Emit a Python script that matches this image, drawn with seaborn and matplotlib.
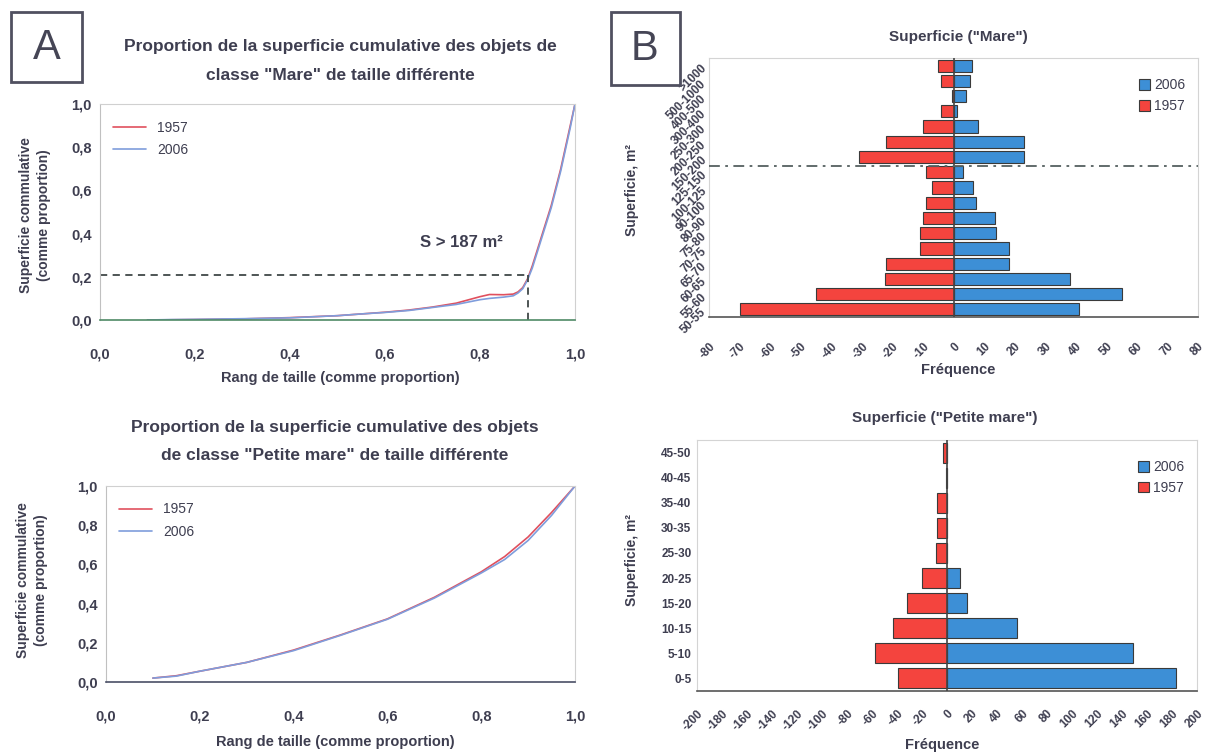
import matplotlib
matplotlib.use("Agg")
import matplotlib.pyplot as plt
import seaborn as sns
import pandas as pd
from matplotlib.patches import Rectangle

# ---------------- data ----------------
rank_mare = [0.10, 0.15, 0.20, 0.30, 0.40, 0.50, 0.55, 0.60, 0.65, 0.70, 0.75, 0.80, 0.82,
             0.85, 0.87, 0.88, 0.89, 0.90, 0.91, 0.92, 0.93, 0.95, 0.97, 0.99, 1.00]
mare_1957 = [0.000, 0.001, 0.002, 0.005, 0.011, 0.020, 0.028, 0.036, 0.046, 0.060, 0.078, 0.108, 0.118,
             0.117, 0.120, 0.130, 0.150, 0.190, 0.250, 0.320, 0.390, 0.530, 0.700, 0.900, 1.000]
mare_2006 = [0.000, 0.002, 0.003, 0.006, 0.010, 0.020, 0.028, 0.035, 0.044, 0.058, 0.072, 0.094, 0.100,
             0.106, 0.112, 0.125, 0.145, 0.185, 0.240, 0.310, 0.380, 0.520, 0.690, 0.890, 1.000]

rank_petite = [0.10, 0.15, 0.20, 0.30, 0.40, 0.50, 0.60, 0.70, 0.80, 0.85, 0.90, 0.95, 1.00]
petite_1957 = [0.020, 0.032, 0.055, 0.100, 0.163, 0.240, 0.322, 0.432, 0.562, 0.640, 0.740, 0.865, 1.000]
petite_2006 = [0.020, 0.030, 0.055, 0.100, 0.160, 0.238, 0.320, 0.428, 0.556, 0.625, 0.722, 0.850, 1.000]

xticks_prop = [0.0, 0.2, 0.4, 0.6, 0.8, 1.0]
xticklabels_prop = ["0,0", "0,2", "0,4", "0,6", "0,8", "1,0"]
yticks_prop = [0.0, 0.2, 0.4, 0.6, 0.8, 1.0]
yticklabels_prop = ["0,0", "0,2", "0,4", "0,6", "0,8", "1,0"]

mare_classes = ["50-55", "55-60", "60-65", "65-70", "70-75", "75-80", "80-90", "90-100",
                "100-125", "125-150", "150-200", "200-250", "250-300", "300-400",
                "400-500", "500-1000", ">1000"]
mare_freq_1957 = [-70, -45, -22.5, -22, -11, -11, -10, -9, -7, -9, -31, -22, -10, -4, -0.5, -4, -5]
mare_freq_2006 = [41, 55, 38, 18, 18, 14, 13.5, 7.5, 6.5, 3, 23, 23, 8, 1.3, 4, 5.5, 6]
mare_xticks = [-80, -70, -60, -50, -40, -30, -20, -10, 0, 10, 20, 30, 40, 50, 60, 70, 80]

petite_classes = ["0-5", "5-10", "10-15", "15-20", "20-25", "25-30", "30-35", "35-40", "40-45", "45-50"]
petite_freq_1957 = [-39, -58, -43, -32, -20, -9, -8, -8, -1, -3]
petite_freq_2006 = [183, 149, 56, 16, 10, 0, 0, 0, 0, 0]
petite_xticks = list(range(-200, 201, 20))

threshold_y = 0.21
threshold_x = 0.90
threshold_label = "S > 187 m²"

# ---------------- style ----------------
sns.set_style("white")
plt.rcParams['font.family'] = ['Liberation Sans', 'DejaVu Sans']
TXT = "#3e3e50"
RED_LINE = "#e0505e"
BLUE_LINE = "#7f9ddc"
RED_BAR = "#f4443e"
BLUE_BAR = "#3d8fd6"
EDGE = "#3a3a3a"

W, H = 1210, 753
fig = plt.figure(figsize=(12.1, 7.53), dpi=100)


def px(x, y):
    return x / W, 1 - y / H


def ftext(x, y, s, **kw):
    kw.setdefault("color", TXT)
    kw.setdefault("fontweight", "bold")
    kw.setdefault("ha", "center")
    kw.setdefault("va", "center")
    fig.text(*px(x, y), s, **kw)


def style_line_axes(ax, bottom_color):
    ax.set_xlim(0, 1)
    ax.set_ylim(0, 1)
    ax.set_xticks(xticks_prop)
    ax.set_xticklabels(xticklabels_prop)
    ax.set_xticks([0.1, 0.3, 0.5, 0.7, 0.9], minor=True)
    ax.set_yticks(yticks_prop)
    ax.set_yticklabels(yticklabels_prop)
    for s in ["top", "right"]:
        ax.spines[s].set_color("#d0d0d0")
        ax.spines[s].set_linewidth(0.8)
    ax.spines["left"].set_color("#c0c0c0")
    ax.spines["bottom"].set_color(bottom_color)
    ax.spines["bottom"].set_linewidth(1.2)
    ax.tick_params(axis="x", which="both", direction="inout", length=6, color="#555555",
                   labelsize=10.5, labelcolor=TXT, pad=17)
    ax.tick_params(axis="y", direction="out", length=3, color="#888888",
                   labelsize=10.5, labelcolor=TXT, pad=3)
    for lab in ax.get_xticklabels() + ax.get_yticklabels():
        lab.set_fontweight("bold")
    ax.set_xlabel("")
    ax.set_ylabel("")


# ---------- panel A top: Mare cumulative ----------
ax1 = fig.add_axes([100 / W, 1 - 320 / H, 475 / W, 216 / H])
df1 = pd.DataFrame({"rank": rank_mare * 2,
                    "val": mare_1957 + mare_2006,
                    "year": ["1957"] * len(rank_mare) + ["2006"] * len(rank_mare)})
sns.lineplot(data=df1, x="rank", y="val", hue="year", palette=[RED_LINE, BLUE_LINE],
             linewidth=1.2, ax=ax1)
ax1.plot([0, threshold_x], [threshold_y, threshold_y], ls=(0, (4, 3)), color="#404848", lw=1.3)
ax1.plot([threshold_x, threshold_x], [0, threshold_y], ls=(0, (4, 3)), color="#404848", lw=1.3)
ax1.text(0.76, 0.36, threshold_label, ha="center", va="center", fontsize=12,
         fontweight="bold", color=TXT)
style_line_axes(ax1, "#4f8a66")
leg = ax1.legend(loc="upper left", frameon=False, fontsize=10, handlelength=2.4,
                 bbox_to_anchor=(0.0, 0.98), labelspacing=0.6)
for t in leg.get_texts():
    t.set_color(TXT)

ftext(340, 47, "Proportion de la superficie cumulative des objets de", fontsize=12.5)
ftext(340, 75, "classe \"Mare\" de taille différente", fontsize=12.5)
ftext(35, 215, "Superficie commulative\n(comme proportion)", rotation=90, fontsize=10,
      linespacing=1.3)
ftext(340, 378, "Rang de taille (comme proportion)", fontsize=10.5)

# A box
fig.patches.append(Rectangle(px(11, 82), 71 / W, 70 / H, transform=fig.transFigure,
                             fill=False, edgecolor="#505060", linewidth=2))
ftext(47, 48, "A", fontsize=30, fontweight="normal", color="#454555")

# ---------- panel A bottom: Petite mare cumulative ----------
ax2 = fig.add_axes([106 / W, 1 - 682 / H, 469 / W, 196 / H])
df2 = pd.DataFrame({"rank": rank_petite * 2,
                    "val": petite_1957 + petite_2006,
                    "year": ["1957"] * len(rank_petite) + ["2006"] * len(rank_petite)})
sns.lineplot(data=df2, x="rank", y="val", hue="year", palette=[RED_LINE, BLUE_LINE],
             linewidth=1.2, ax=ax2)
style_line_axes(ax2, "#4a4f66")
leg = ax2.legend(loc="upper left", frameon=False, fontsize=10, handlelength=2.4,
                 bbox_to_anchor=(0.0, 0.98), labelspacing=0.6)
for t in leg.get_texts():
    t.set_color(TXT)

ftext(335, 427, "Proportion de la superficie cumulative des objets", fontsize=12.5)
ftext(335, 455, "de classe \"Petite mare\" de taille différente", fontsize=12.5)
ftext(32, 580, "Superficie commulative\n(comme proportion)", rotation=90, fontsize=10,
      linespacing=1.3)
ftext(335, 742, "Rang de taille (comme proportion)", fontsize=10.5)


# ---------- pyramids ----------
def pyramid(ax, classes, f1957, f2006, xticks, ylab_rot, ylab_size, xpad):
    order = classes[::-1]
    d57 = pd.DataFrame({"cls": classes, "v": f1957})
    d06 = pd.DataFrame({"cls": classes, "v": f2006})
    sns.barplot(data=d06, y="cls", x="v", order=order, orient="h", color=BLUE_BAR,
                width=0.8, edgecolor=EDGE, linewidth=0.8, saturation=1, ax=ax, label="2006")
    sns.barplot(data=d57, y="cls", x="v", order=order, orient="h", color=RED_BAR,
                width=0.8, edgecolor=EDGE, linewidth=0.8, saturation=1, ax=ax, label="1957")
    ax.set_xlim(xticks[0], xticks[-1])
    ax.set_ylim(len(classes) - 0.5, -0.5)
    ax.axvline(0, color="#444444", lw=1.2, zorder=5)
    ax.set_xticks(xticks)
    ax.set_xticklabels([str(t) for t in xticks], rotation=45, ha="right",
                       rotation_mode="anchor", fontsize=8.5, fontweight="bold", color=TXT)
    for lab in ax.get_yticklabels():
        lab.set_rotation(ylab_rot)
        lab.set_fontsize(ylab_size)
        lab.set_fontweight("bold")
        lab.set_color(TXT)
        if ylab_rot:
            lab.set_ha("right")
            lab.set_rotation_mode("anchor")
    for s in ["top", "right", "left"]:
        ax.spines[s].set_color("#d4d4d4")
        ax.spines[s].set_linewidth(0.8)
    ax.spines["bottom"].set_color("#555555")
    ax.spines["bottom"].set_linewidth(1.2)
    ax.tick_params(axis="x", direction="inout", length=6, color="#555555", pad=xpad)
    ax.tick_params(axis="y", length=0, pad=4)
    ax.set_xlabel("")
    ax.set_ylabel("")
    h, l = ax.get_legend_handles_labels()
    leg = ax.legend(h, l, loc="upper right", frameon=False, fontsize=10,
                    handlelength=0.8, handleheight=0.8, handletextpad=0.3,
                    labelspacing=0.5, bbox_to_anchor=(1.0, 0.97))
    for t in leg.get_texts():
        t.set_color(TXT)


ax3 = fig.add_axes([709 / W, 1 - 317 / H, 489 / W, 259 / H])
pyramid(ax3, mare_classes, mare_freq_1957, mare_freq_2006, mare_xticks, 45, 8.5, 14)
n = len(mare_classes)
ax3.axhline(n - 1 - 9.4, color="#556060", lw=1.3, ls=(0, (6, 3, 1.5, 3)), zorder=6)

ftext(958, 37, "Superficie (\"Mare\")", fontsize=11)
ftext(632, 190, "Superficie, m²", rotation=90, fontsize=10)
ftext(958, 370, "Fréquence", fontsize=10.5)

fig.patches.append(Rectangle(px(611, 85), 69 / W, 73 / H, transform=fig.transFigure,
                             fill=False, edgecolor="#505060", linewidth=2))
ftext(645, 49, "B", fontsize=30, fontweight="normal", color="#454555")

ax4 = fig.add_axes([697 / W, 1 - 691 / H, 500 / W, 251 / H])
pyramid(ax4, petite_classes, petite_freq_1957, petite_freq_2006, petite_xticks, 0, 8.5, 9)

ftext(945, 418, "Superficie (\"Petite mare\")", fontsize=11)
ftext(632, 560, "Superficie, m²", rotation=90, fontsize=10)
ftext(942, 745, "Fréquence", fontsize=10.5)

fig.savefig("out.png", dpi=100, facecolor="white")
